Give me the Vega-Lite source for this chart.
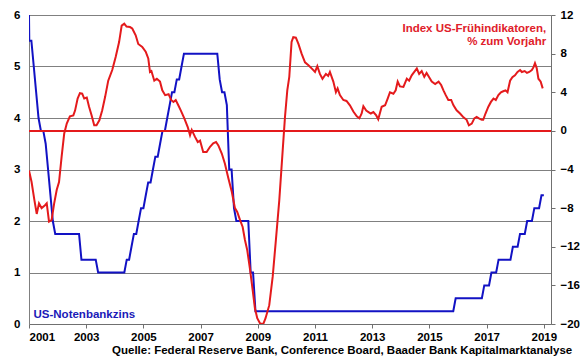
{
  "$schema": "https://vega.github.io/schema/vega-lite/v6.json",
  "width": 522,
  "height": 309,
  "autosize": {"type": "none"},
  "padding": {"left": 29, "top": 15, "right": 29, "bottom": 35},
  "config": {
    "view": {"stroke": null},
    "font": "Liberation Sans",
    "axis": {"labelFont": "Liberation Sans", "labelFontWeight": "bold", "labelFontSize": 11.5, "labelColor": "#000000", "titleFont": "Liberation Sans", "titleFontWeight": "bold", "titleFontSize": 11.5}
  },
  "datasets": {
    "fed": [
      {"year": 2001.0, "rate": 6.0}, {"year": 2001.01, "rate": 5.5}, {"year": 2001.083, "rate": 5.5}, {"year": 2001.167, "rate": 5.0},
      {"year": 2001.25, "rate": 4.5}, {"year": 2001.333, "rate": 4.0}, {"year": 2001.417, "rate": 3.75}, {"year": 2001.5, "rate": 3.75},
      {"year": 2001.583, "rate": 3.5}, {"year": 2001.667, "rate": 3.0}, {"year": 2001.75, "rate": 2.5}, {"year": 2001.833, "rate": 2.0},
      {"year": 2001.917, "rate": 1.75}, {"year": 2002.75, "rate": 1.75}, {"year": 2002.833, "rate": 1.25}, {"year": 2003.333, "rate": 1.25},
      {"year": 2003.417, "rate": 1.0}, {"year": 2004.333, "rate": 1.0}, {"year": 2004.417, "rate": 1.25}, {"year": 2004.5, "rate": 1.25},
      {"year": 2004.583, "rate": 1.5}, {"year": 2004.667, "rate": 1.75}, {"year": 2004.75, "rate": 1.75}, {"year": 2004.833, "rate": 2.0},
      {"year": 2004.917, "rate": 2.25}, {"year": 2005.0, "rate": 2.25}, {"year": 2005.083, "rate": 2.5}, {"year": 2005.167, "rate": 2.75},
      {"year": 2005.25, "rate": 2.75}, {"year": 2005.333, "rate": 3.0}, {"year": 2005.417, "rate": 3.25}, {"year": 2005.5, "rate": 3.25},
      {"year": 2005.583, "rate": 3.5}, {"year": 2005.667, "rate": 3.75}, {"year": 2005.75, "rate": 3.75}, {"year": 2005.833, "rate": 4.0},
      {"year": 2005.917, "rate": 4.25}, {"year": 2006.0, "rate": 4.5}, {"year": 2006.083, "rate": 4.5}, {"year": 2006.167, "rate": 4.75},
      {"year": 2006.25, "rate": 4.75}, {"year": 2006.333, "rate": 5.0}, {"year": 2006.417, "rate": 5.25}, {"year": 2007.583, "rate": 5.25},
      {"year": 2007.667, "rate": 4.75}, {"year": 2007.75, "rate": 4.5}, {"year": 2007.833, "rate": 4.5}, {"year": 2007.917, "rate": 4.25},
      {"year": 2008.0, "rate": 3.0}, {"year": 2008.083, "rate": 3.0}, {"year": 2008.167, "rate": 2.25}, {"year": 2008.25, "rate": 2.0},
      {"year": 2008.667, "rate": 2.0}, {"year": 2008.75, "rate": 1.0}, {"year": 2008.833, "rate": 1.0}, {"year": 2008.917, "rate": 0.25},
      {"year": 2015.833, "rate": 0.25}, {"year": 2015.917, "rate": 0.5}, {"year": 2016.833, "rate": 0.5}, {"year": 2016.917, "rate": 0.75},
      {"year": 2017.083, "rate": 0.75}, {"year": 2017.167, "rate": 1.0}, {"year": 2017.333, "rate": 1.0}, {"year": 2017.417, "rate": 1.25},
      {"year": 2017.833, "rate": 1.25}, {"year": 2017.917, "rate": 1.5}, {"year": 2018.083, "rate": 1.5}, {"year": 2018.167, "rate": 1.75},
      {"year": 2018.333, "rate": 1.75}, {"year": 2018.417, "rate": 2.0}, {"year": 2018.583, "rate": 2.0}, {"year": 2018.667, "rate": 2.25},
      {"year": 2018.833, "rate": 2.25}, {"year": 2018.917, "rate": 2.5}, {"year": 2019.0, "rate": 2.5}
    ],
    "lei": [
      {"year": 2001.0, "pct": -4.1}, {"year": 2001.09, "pct": -5.3}, {"year": 2001.19, "pct": -7.2}, {"year": 2001.27, "pct": -8.6},
      {"year": 2001.35, "pct": -7.5}, {"year": 2001.44, "pct": -8.0}, {"year": 2001.56, "pct": -7.7}, {"year": 2001.62, "pct": -7.5},
      {"year": 2001.7, "pct": -9.4}, {"year": 2001.79, "pct": -9.25}, {"year": 2001.88, "pct": -7.5}, {"year": 2001.97, "pct": -6.1},
      {"year": 2002.05, "pct": -5.3}, {"year": 2002.14, "pct": -2.7}, {"year": 2002.23, "pct": -0.3}, {"year": 2002.32, "pct": 0.76},
      {"year": 2002.43, "pct": 1.5}, {"year": 2002.55, "pct": 1.6}, {"year": 2002.61, "pct": 2.1}, {"year": 2002.7, "pct": 3.35},
      {"year": 2002.78, "pct": 3.9}, {"year": 2002.86, "pct": 3.85}, {"year": 2002.93, "pct": 3.35}, {"year": 2003.02, "pct": 3.45},
      {"year": 2003.1, "pct": 2.5}, {"year": 2003.19, "pct": 1.6}, {"year": 2003.28, "pct": 0.58}, {"year": 2003.36, "pct": 0.58},
      {"year": 2003.46, "pct": 1.1}, {"year": 2003.56, "pct": 2.13}, {"year": 2003.66, "pct": 3.5}, {"year": 2003.77, "pct": 5.2},
      {"year": 2003.91, "pct": 6.3}, {"year": 2004.03, "pct": 7.65}, {"year": 2004.15, "pct": 9.2}, {"year": 2004.24, "pct": 10.9},
      {"year": 2004.33, "pct": 11.1}, {"year": 2004.41, "pct": 10.8}, {"year": 2004.53, "pct": 10.75}, {"year": 2004.61, "pct": 10.6},
      {"year": 2004.73, "pct": 9.9}, {"year": 2004.82, "pct": 9.0}, {"year": 2004.96, "pct": 8.7}, {"year": 2005.08, "pct": 8.2},
      {"year": 2005.17, "pct": 7.5}, {"year": 2005.23, "pct": 6.1}, {"year": 2005.28, "pct": 6.2}, {"year": 2005.38, "pct": 5.2},
      {"year": 2005.47, "pct": 5.4}, {"year": 2005.58, "pct": 5.1}, {"year": 2005.66, "pct": 4.2}, {"year": 2005.76, "pct": 3.7},
      {"year": 2005.88, "pct": 3.8}, {"year": 2005.97, "pct": 3.2}, {"year": 2006.05, "pct": 3.0}, {"year": 2006.13, "pct": 3.2},
      {"year": 2006.22, "pct": 2.65}, {"year": 2006.31, "pct": 2.1}, {"year": 2006.43, "pct": 1.3}, {"year": 2006.55, "pct": 0.4},
      {"year": 2006.63, "pct": -0.45}, {"year": 2006.69, "pct": 0.1}, {"year": 2006.8, "pct": -0.6}, {"year": 2006.9, "pct": -1.15},
      {"year": 2006.98, "pct": -1.0}, {"year": 2007.09, "pct": -2.2}, {"year": 2007.21, "pct": -2.2}, {"year": 2007.33, "pct": -1.65},
      {"year": 2007.44, "pct": -1.3}, {"year": 2007.54, "pct": -1.15}, {"year": 2007.62, "pct": -1.5}, {"year": 2007.74, "pct": -2.35},
      {"year": 2007.85, "pct": -3.4}, {"year": 2007.97, "pct": -4.9}, {"year": 2008.09, "pct": -6.3}, {"year": 2008.2, "pct": -8.0},
      {"year": 2008.28, "pct": -8.4}, {"year": 2008.38, "pct": -9.25}, {"year": 2008.47, "pct": -9.95}, {"year": 2008.55, "pct": -11.3},
      {"year": 2008.63, "pct": -12.35}, {"year": 2008.73, "pct": -14.4}, {"year": 2008.82, "pct": -16.5}, {"year": 2008.9, "pct": -18.4},
      {"year": 2008.98, "pct": -19.4}, {"year": 2009.08, "pct": -19.95}, {"year": 2009.19, "pct": -20.0}, {"year": 2009.27, "pct": -19.4},
      {"year": 2009.4, "pct": -18.05}, {"year": 2009.52, "pct": -15.1}, {"year": 2009.62, "pct": -11.7}, {"year": 2009.75, "pct": -7.2},
      {"year": 2009.87, "pct": -2.0}, {"year": 2009.95, "pct": 1.45}, {"year": 2010.03, "pct": 4.2}, {"year": 2010.1, "pct": 5.6},
      {"year": 2010.18, "pct": 9.2}, {"year": 2010.24, "pct": 9.7}, {"year": 2010.33, "pct": 9.65}, {"year": 2010.42, "pct": 9.0},
      {"year": 2010.53, "pct": 8.0}, {"year": 2010.65, "pct": 7.1}, {"year": 2010.77, "pct": 6.8}, {"year": 2010.89, "pct": 6.45},
      {"year": 2011.0, "pct": 6.1}, {"year": 2011.08, "pct": 6.7}, {"year": 2011.17, "pct": 5.9}, {"year": 2011.26, "pct": 5.4},
      {"year": 2011.38, "pct": 5.9}, {"year": 2011.46, "pct": 5.7}, {"year": 2011.52, "pct": 6.1}, {"year": 2011.64, "pct": 5.1},
      {"year": 2011.73, "pct": 4.0}, {"year": 2011.79, "pct": 4.4}, {"year": 2011.87, "pct": 3.7}, {"year": 2011.99, "pct": 3.2},
      {"year": 2012.1, "pct": 3.1}, {"year": 2012.22, "pct": 2.65}, {"year": 2012.34, "pct": 2.0}, {"year": 2012.46, "pct": 1.5},
      {"year": 2012.55, "pct": 1.3}, {"year": 2012.63, "pct": 1.8}, {"year": 2012.69, "pct": 2.55}, {"year": 2012.79, "pct": 2.1},
      {"year": 2012.87, "pct": 1.95}, {"year": 2012.95, "pct": 1.8}, {"year": 2013.04, "pct": 1.95}, {"year": 2013.14, "pct": 1.6},
      {"year": 2013.21, "pct": 1.2}, {"year": 2013.33, "pct": 2.5}, {"year": 2013.45, "pct": 2.65}, {"year": 2013.54, "pct": 3.35},
      {"year": 2013.62, "pct": 4.0}, {"year": 2013.74, "pct": 3.85}, {"year": 2013.82, "pct": 4.2}, {"year": 2013.89, "pct": 5.1},
      {"year": 2013.97, "pct": 4.6}, {"year": 2014.09, "pct": 4.55}, {"year": 2014.21, "pct": 5.4}, {"year": 2014.29, "pct": 5.2},
      {"year": 2014.38, "pct": 5.75}, {"year": 2014.47, "pct": 6.1}, {"year": 2014.56, "pct": 6.45}, {"year": 2014.64, "pct": 5.9},
      {"year": 2014.73, "pct": 6.2}, {"year": 2014.82, "pct": 5.6}, {"year": 2014.9, "pct": 6.0}, {"year": 2014.99, "pct": 5.55},
      {"year": 2015.08, "pct": 5.1}, {"year": 2015.2, "pct": 4.85}, {"year": 2015.32, "pct": 5.1}, {"year": 2015.41, "pct": 4.75},
      {"year": 2015.49, "pct": 4.2}, {"year": 2015.57, "pct": 3.7}, {"year": 2015.66, "pct": 3.2}, {"year": 2015.76, "pct": 3.2},
      {"year": 2015.84, "pct": 2.65}, {"year": 2015.95, "pct": 2.13}, {"year": 2016.07, "pct": 1.8}, {"year": 2016.19, "pct": 1.4},
      {"year": 2016.3, "pct": 1.15}, {"year": 2016.38, "pct": 0.58}, {"year": 2016.48, "pct": 0.75}, {"year": 2016.57, "pct": 1.3},
      {"year": 2016.65, "pct": 1.45}, {"year": 2016.73, "pct": 1.3}, {"year": 2016.83, "pct": 1.15}, {"year": 2016.88, "pct": 1.15},
      {"year": 2016.96, "pct": 1.8}, {"year": 2017.06, "pct": 2.5}, {"year": 2017.15, "pct": 3.0}, {"year": 2017.24, "pct": 3.35},
      {"year": 2017.32, "pct": 3.2}, {"year": 2017.41, "pct": 3.7}, {"year": 2017.5, "pct": 4.0}, {"year": 2017.58, "pct": 4.1},
      {"year": 2017.66, "pct": 4.2}, {"year": 2017.73, "pct": 4.0}, {"year": 2017.82, "pct": 5.2}, {"year": 2017.9, "pct": 5.55},
      {"year": 2017.99, "pct": 5.75}, {"year": 2018.08, "pct": 6.1}, {"year": 2018.17, "pct": 6.3}, {"year": 2018.23, "pct": 6.1},
      {"year": 2018.33, "pct": 6.2}, {"year": 2018.41, "pct": 6.0}, {"year": 2018.49, "pct": 6.1}, {"year": 2018.58, "pct": 6.3},
      {"year": 2018.64, "pct": 6.6}, {"year": 2018.69, "pct": 7.0}, {"year": 2018.75, "pct": 6.5}, {"year": 2018.81, "pct": 5.4},
      {"year": 2018.89, "pct": 5.1}, {"year": 2018.96, "pct": 4.4}
    ],
    "zeroline": [{"pct": 0}]
  },
  "layer": [
    {
      "data": {"name": "fed"},
      "mark": {"type": "line", "color": "#1212c4", "strokeWidth": 2, "clip": true},
      "encoding": {
        "x": {
          "field": "year", "type": "quantitative",
          "scale": {"domain": [2001, 2019.25], "nice": false, "zero": false},
          "axis": {
            "values": [2001, 2003, 2005, 2007, 2009, 2011, 2013, 2015, 2017, 2019],
            "format": "d", "grid": false, "domainColor": "#707070", "tickColor": "#707070", "tickSize": 4, "labelPadding": 3,
            "title": "Quelle: Federal Reserve Bank, Conference Board, Baader Bank Kapitalmarktanalyse",
            "titleX": 542.7, "titleY": 29.5, "titleAlign": "right", "titleBaseline": "alphabetic", "titleAnchor": null, "titleColor": "#000000"
          }
        },
        "y": {
          "field": "rate", "type": "quantitative",
          "scale": {"domain": [0, 6], "nice": false, "zero": false},
          "axis": {
            "orient": "left", "values": [0, 1, 2, 3, 4, 5, 6], "grid": true, "gridColor": "#808080", "gridWidth": 1, "gridOpacity": 1,
            "ticks": false, "labelPadding": 9, "domainColor": "#808080",
            "title": "US-Notenbankzins", "titleAngle": 0, "titleX": 4, "titleY": 299, "titleAlign": "left", "titleBaseline": "middle", "titleColor": "#1a1ab8"
          }
        }
      }
    },
    {
      "data": {"name": "zeroline"},
      "mark": {"type": "rule", "color": "#e41a1c", "strokeWidth": 2},
      "encoding": {
        "y": {"field": "pct", "type": "quantitative", "scale": {"domain": [-20, 12], "nice": false, "zero": false}, "axis": null}
      }
    },
    {
      "data": {"name": "lei"},
      "mark": {"type": "line", "color": "#e41a1c", "strokeWidth": 2, "clip": true},
      "encoding": {
        "x": {"field": "year", "type": "quantitative"},
        "y": {
          "field": "pct", "type": "quantitative",
          "scale": {"domain": [-20, 12], "nice": false, "zero": false},
          "axis": {
            "orient": "right", "values": [-20, -16, -12, -8, -4, 0, 4, 8, 12], "grid": false,
            "tickSize": 4, "tickColor": "#707070", "domainColor": "#707070", "labelPadding": 5,
            "title": ["Index US-Frühindikatoren,", "% zum Vorjahr"], "titleAngle": 0, "titleX": -5.3, "titleY": 16.3,
            "titleAlign": "right", "titleBaseline": "alphabetic", "titleLineHeight": 13.3, "titleColor": "#e0202a"
          }
        }
      }
    }
  ],
  "resolve": {"scale": {"y": "independent"}}
}
